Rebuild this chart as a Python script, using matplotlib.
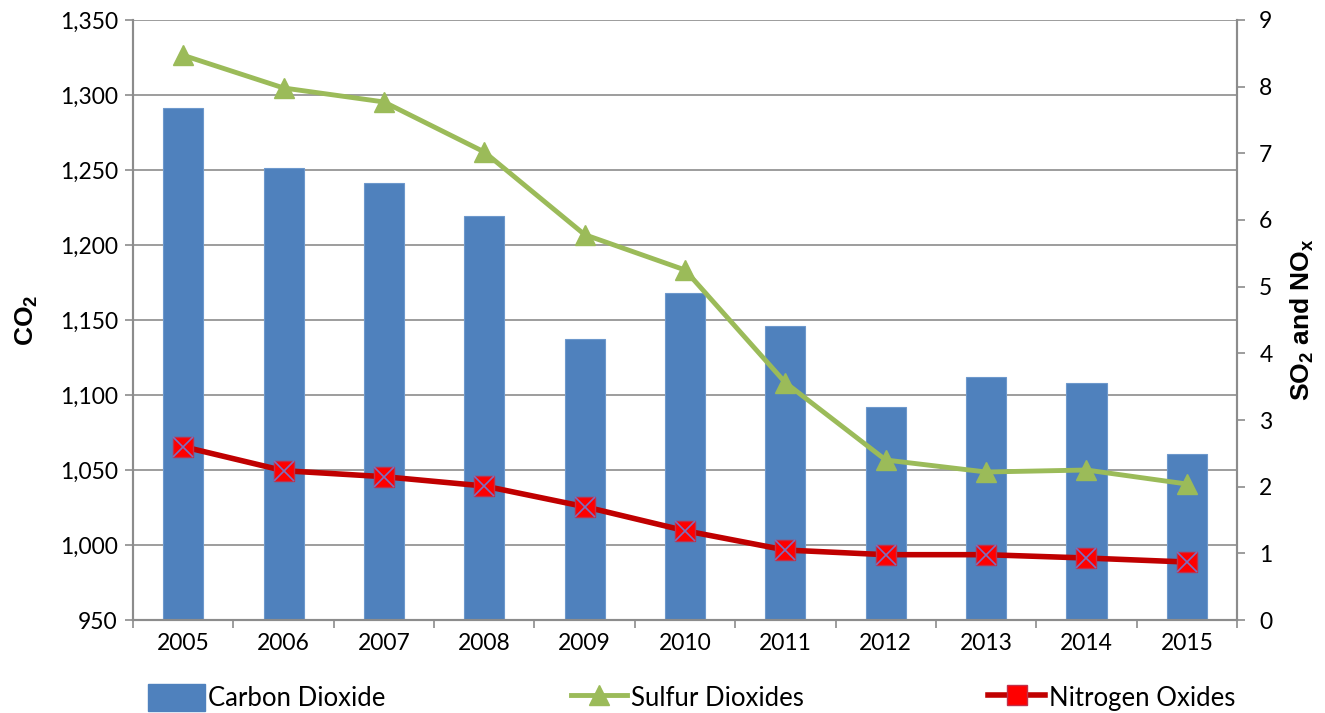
import matplotlib.pyplot as plt
import numpy as np
from matplotlib.lines import Line2D
from matplotlib.patches import Patch
from matplotlib.ticker import FuncFormatter, MultipleLocator

years = ['2005', '2006', '2007', '2008', '2009', '2010', '2011', '2012', '2013', '2014', '2015']
co2 = [1291, 1251, 1241, 1219, 1137, 1168, 1146, 1092, 1112, 1108, 1061]
so2 = [8.47, 7.98, 7.77, 7.02, 5.78, 5.25, 3.56, 2.40, 2.22, 2.25, 2.04]
nox = [2.60, 2.24, 2.15, 2.01, 1.70, 1.34, 1.05, 0.98, 0.98, 0.93, 0.87]

plt.rcParams['font.family'] = ['Lato', 'DejaVu Sans']
plt.rcParams['mathtext.default'] = 'regular'

fig = plt.figure(figsize=(13.25, 7.13), dpi=100)
ax = fig.add_axes([0.1004, 0.1304, 0.8332, 0.8416])
ax2 = ax.twinx()

x = np.arange(len(years))
grid_c = '#8c8c8c'
tick_fs = 16.5

ax.bar(x, co2, width=0.4, color='#4F81BD', edgecolor='#6d98cc', linewidth=0.8, zorder=2)
ax.set_ylim(950, 1350)
ax.set_xlim(-0.5, len(years) - 0.5)
ax.yaxis.set_major_locator(MultipleLocator(50))
ax.yaxis.set_major_formatter(FuncFormatter(lambda v, p: f'{int(v):,}'))
ax.grid(axis='y', color=grid_c, linewidth=1.2, zorder=0)
ax.set_axisbelow(True)

ax.set_xticks(x)
ax.set_xticklabels(years)
ax.set_xticks(np.arange(-0.5, len(years)), minor=True)
ax.tick_params(axis='x', which='major', length=0, pad=9, labelsize=tick_fs)
ax.tick_params(axis='x', which='minor', length=6, color=grid_c, width=1.2)
ax.tick_params(axis='y', length=6, color=grid_c, width=1.2, labelsize=tick_fs, pad=5)

ax2.plot(x, so2, color='#9BBB59', linewidth=3.5, marker='^', markersize=15,
         markerfacecolor='#9BBB59', markeredgecolor='#9BBB59', zorder=3)
ax2.plot(x, nox, color='#C00000', linewidth=4, marker='s', markersize=15,
         markerfacecolor='#FF0000', markeredgecolor='#C0304A', zorder=4)
ax2.plot(x, nox, linestyle='none', marker='x', markersize=14,
         markeredgecolor='#7A6FBF', markeredgewidth=1.2, zorder=5)
ax2.set_ylim(0, 9)
ax2.yaxis.set_major_locator(MultipleLocator(1))
ax2.tick_params(axis='y', length=6, color=grid_c, width=1.2, labelsize=tick_fs, pad=10)

for a in (ax, ax2):
    a.spines['top'].set_visible(False)
    for s in ('left', 'right', 'bottom'):
        a.spines[s].set_color(grid_c)
        a.spines[s].set_linewidth(1.5)

ax.set_ylabel('CO$_2$', fontsize=19, fontweight='bold', family='Liberation Sans', labelpad=14)
ax2.set_ylabel('SO$_2$ and NO$_x$', fontsize=19, fontweight='bold', family='Liberation Sans', labelpad=12)

handles = [
    Patch(color='#4F81BD'),
    Line2D([], [], color='#9BBB59', linewidth=3.5, marker='^', markersize=15),
    Line2D([], [], color='#C00000', linewidth=4, marker='s', markersize=15,
           markerfacecolor='#FF0000', markeredgecolor='#C0304A'),
]
labels = ['Carbon Dioxide', 'Sulfur Dioxides', 'Nitrogen Oxides']
fig.legend(handles, labels, loc='lower left', bbox_to_anchor=(0.104, -0.012, 0.836, 0.05),
           ncol=3, mode='expand', frameon=False, fontsize=18.5, handlelength=2.2,
           handleheight=1.2, handletextpad=0.15, borderaxespad=0.0)

fig.savefig('out.png', dpi=100)
